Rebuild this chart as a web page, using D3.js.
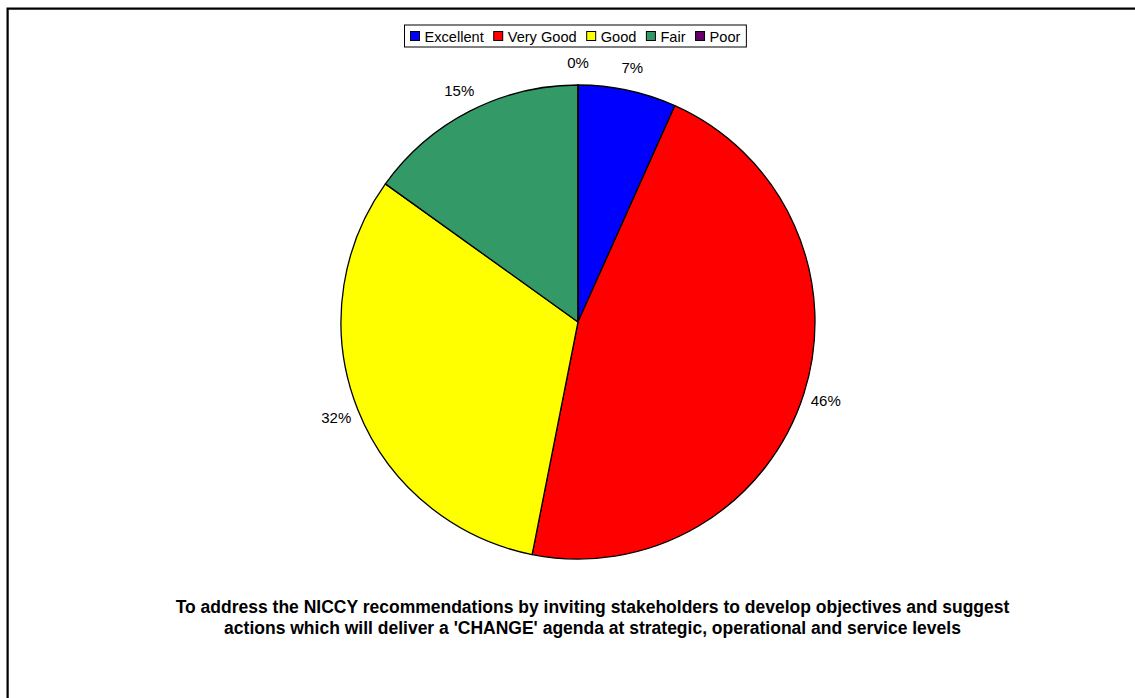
<!DOCTYPE html>
<html>
<head>
<meta charset="utf-8">
<script src="https://cdn.jsdelivr.net/npm/d3@7"></script>
<style>
  html, body { margin: 0; padding: 0; background: #fff; }
  svg { display: block; font-family: "Liberation Sans", Arial, sans-serif; }
</style>
</head>
<body>
<svg id="chart" width="1135" height="698"></svg>
<script>
const categories = ["Excellent", "Very Good", "Good", "Fair", "Poor"];
const values = [6.7, 46.4, 31.8, 15.1, 0];
const colors = ["#0000FF", "#FF0000", "#FFFF00", "#339966", "#660066"];
const titleLines = [
  "To address the NICCY recommendations by inviting stakeholders to develop objectives and suggest",
  "actions which will deliver a 'CHANGE' agenda at strategic, operational and service levels"
];

const svg = d3.select("#chart");
const W = 1135, H = 698;

// outer frame (extends past right/bottom edge)
svg.append("rect").attr("x", 8.5).attr("y", 9.5).attr("width", W + 20).attr("height", H + 20)
  .attr("fill", "none").attr("stroke", "#888").attr("stroke-width", 1);
svg.append("rect").attr("x", 7.5).attr("y", 8.5).attr("width", W + 20).attr("height", H + 20)
  .attr("fill", "none").attr("stroke", "#000").attr("stroke-width", 2);

const cx = 578, cy = 322, r = 237;
const total = d3.sum(values);
const pie = d3.pie().sort(null).value(d => d)(values);
const arc = d3.arc().innerRadius(0).outerRadius(r);

const g = svg.append("g").attr("transform", `translate(${cx},${cy})`);
g.selectAll("path").data(pie).enter().append("path")
  .attr("d", arc)
  .attr("fill", (d, i) => colors[i])
  .attr("stroke", "#000").attr("stroke-width", 1.3)
  .attr("stroke-linejoin", "round");

// labels
const labelArc = d3.arc().innerRadius(260).outerRadius(260);
g.selectAll("text.lbl").data(pie).enter().append("text")
  .attr("class", "lbl")
  .attr("font-size", 15)
  .attr("fill", "#000")
  .attr("text-anchor", "middle")
  .attr("dominant-baseline", "central")
  .attr("x", d => labelArc.centroid(d)[0])
  .attr("y", d => labelArc.centroid(d)[1])
  .text(d => Math.round(d.data / total * 100) + "%");

// legend
const lg = svg.append("g");
const items = lg.selectAll("g").data(categories).enter().append("g");
items.append("rect").attr("width", 9).attr("height", 9)
  .attr("fill", (d, i) => colors[i]).attr("stroke", "#000").attr("stroke-width", 1);
items.append("text").attr("x", 14).attr("y", 10).attr("font-size", 14.6).text(d => d);
let xPos = 0;
items.each(function () {
  const node = d3.select(this);
  node.attr("transform", `translate(${xPos},0)`);
  xPos += 14 + node.select("text").node().getComputedTextLength() + 10;
});
const lgW = xPos - 10 + 12;
const lgX = 404, lgY = 25;
lg.insert("rect", ":first-child").attr("x", -6).attr("y", -6.5).attr("width", lgW).attr("height", 22)
  .attr("fill", "#fff").attr("stroke", "#000").attr("stroke-width", 1);
lg.attr("transform", `translate(${lgX + 6.5},${lgY + 6.5})`);

// title
svg.append("g").selectAll("text").data(titleLines).enter().append("text")
  .attr("x", 592.5).attr("y", (d, i) => 613 + i * 21)
  .attr("text-anchor", "middle").attr("font-size", 17.5).attr("font-weight", "bold")
  .text(d => d);
</script>
</body>
</html>
